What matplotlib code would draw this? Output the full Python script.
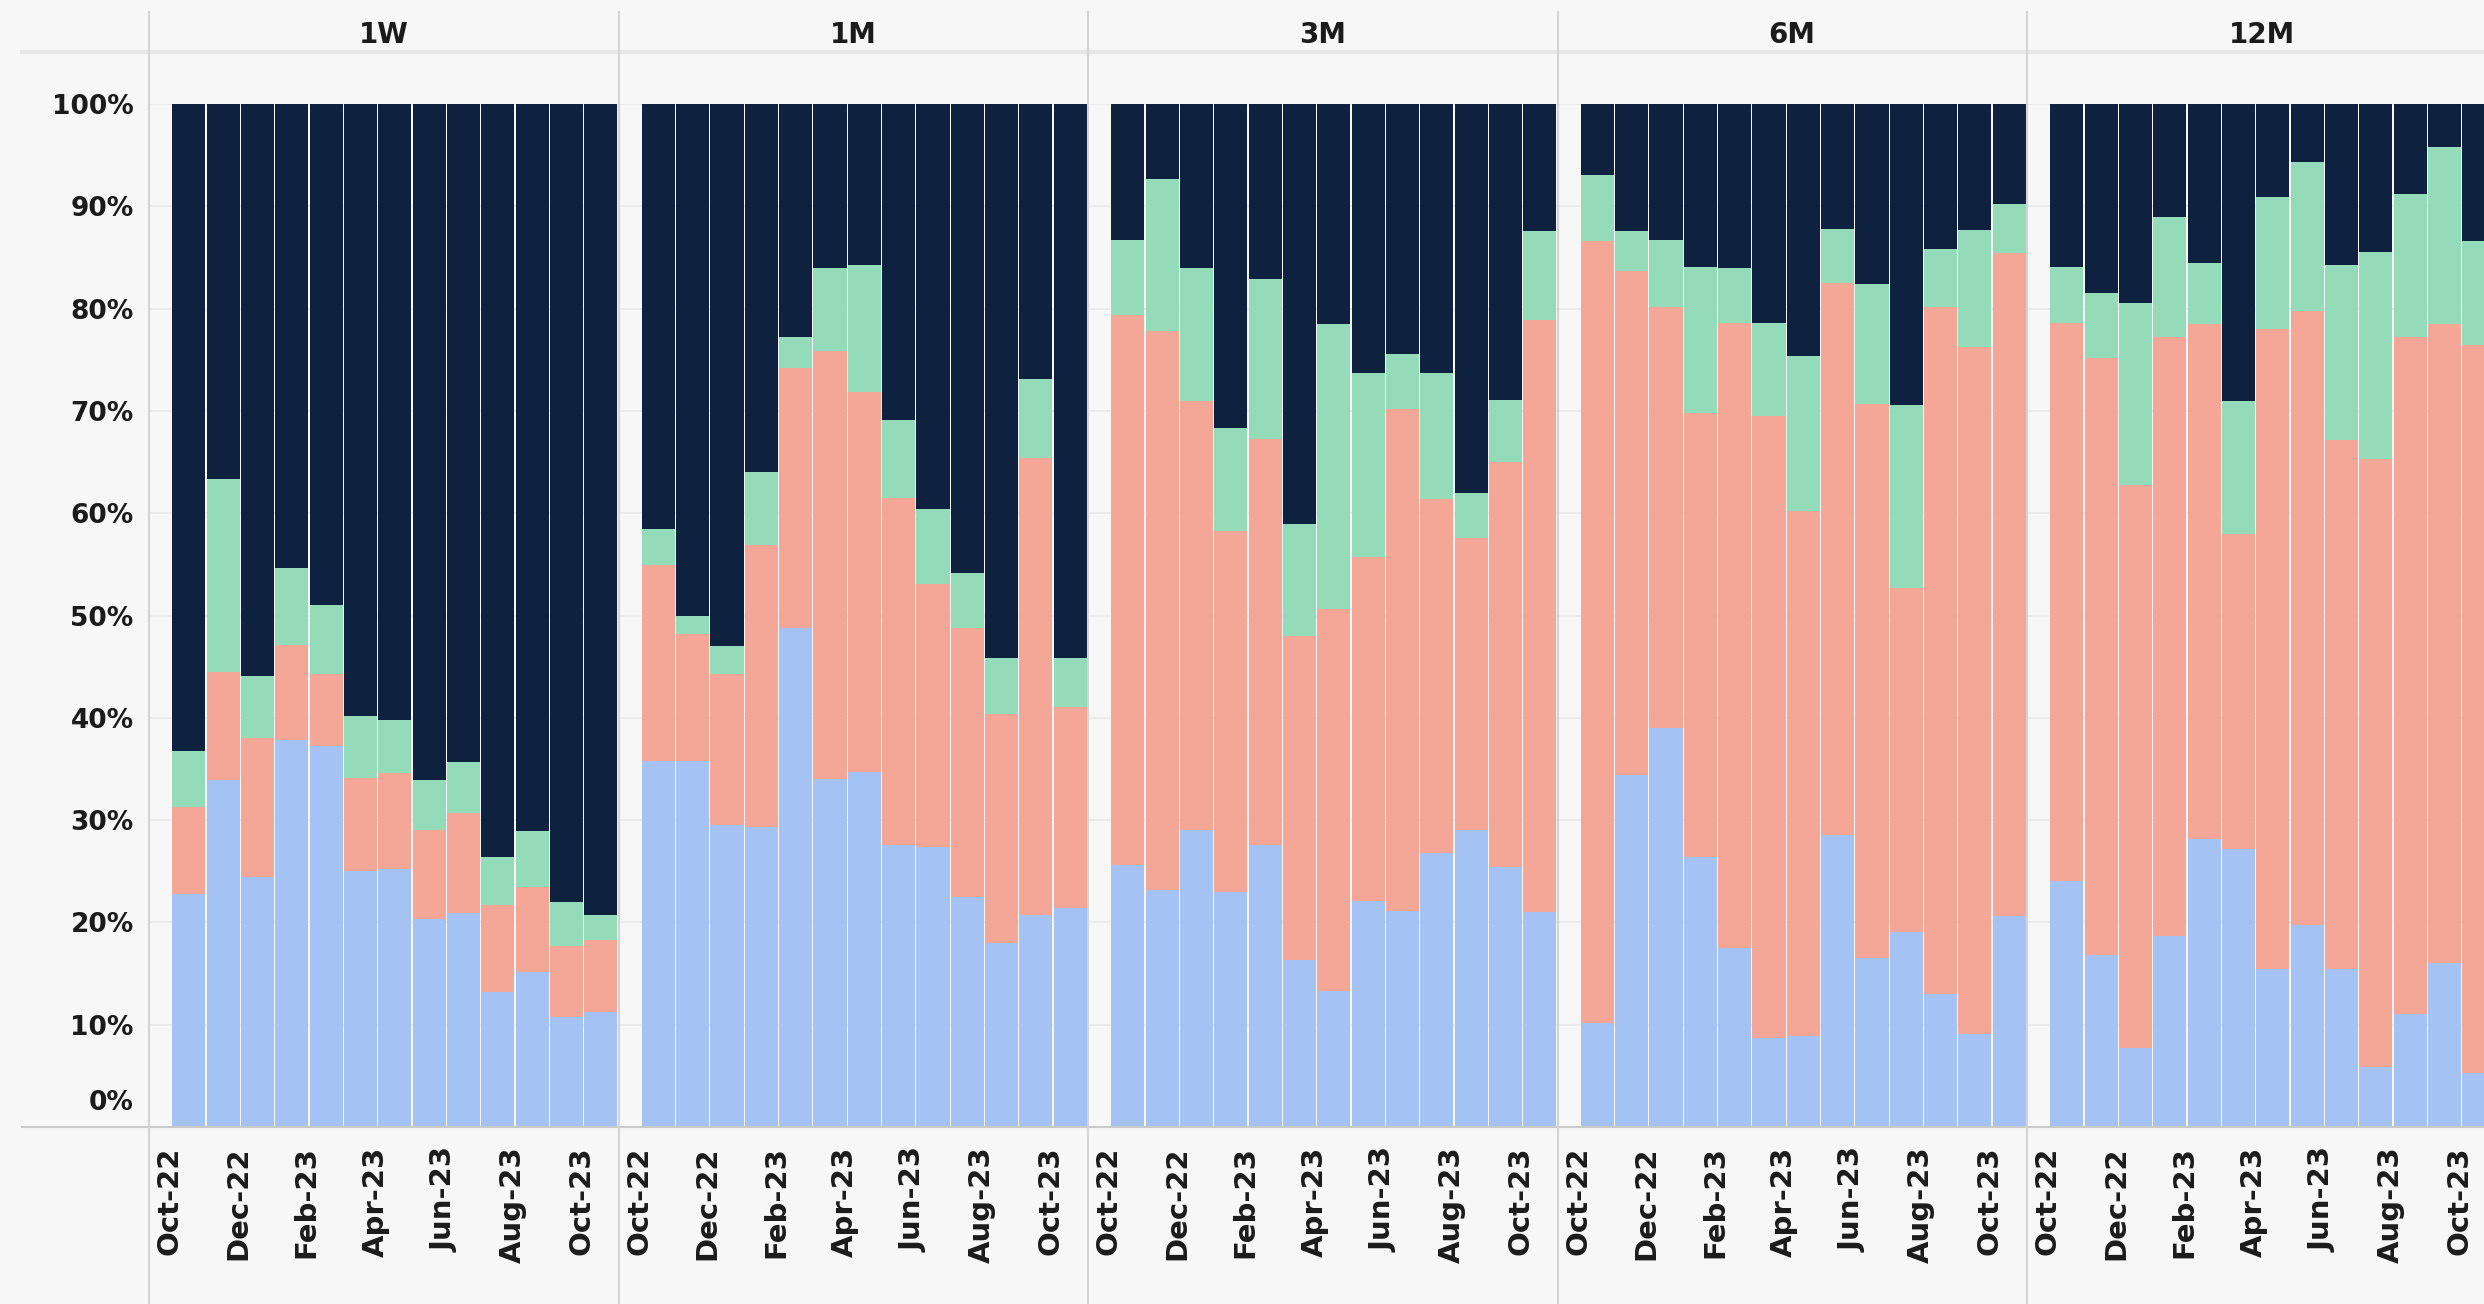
import matplotlib
matplotlib.use('Agg')
import matplotlib.pyplot as plt
from matplotlib.lines import Line2D
from matplotlib.transforms import ScaledTranslation

# months shown in every panel
months = ['Oct-22', 'Nov-22', 'Dec-22', 'Jan-23', 'Feb-23', 'Mar-23', 'Apr-23',
          'May-23', 'Jun-23', 'Jul-23', 'Aug-23', 'Sep-23', 'Oct-23']
tick_labels = ['Oct-22', 'Dec-22', 'Feb-23', 'Apr-23', 'Jun-23', 'Aug-23', 'Oct-23']
panels = ['1W', '1M', '3M', '6M', '12M']

# shares (%) per segment, bottom to top
blue = {
    '1W': [22.8, 33.9, 24.4, 37.8, 37.2, 25.0, 25.2, 20.3, 20.9, 13.2, 15.2, 10.8, 11.2],
    '1M': [35.8, 35.8, 29.5, 29.3, 48.8, 34.0, 34.7, 27.6, 27.4, 22.5, 18.0, 20.7, 21.4],
    '3M': [25.6, 23.2, 29.0, 23.0, 27.6, 16.3, 13.3, 22.1, 21.1, 26.8, 29.0, 25.4, 21.0],
    '6M': [10.2, 34.4, 39.0, 26.4, 17.5, 8.7, 8.9, 28.5, 16.5, 19.1, 13.0, 9.1, 20.6],
    '12M': [24.0, 16.8, 7.7, 18.7, 28.2, 27.2, 15.4, 19.7, 15.4, 5.9, 11.0, 16.0, 5.3],
}
salmon = {
    '1W': [8.5, 10.6, 13.6, 9.3, 7.1, 9.1, 9.4, 8.7, 9.8, 8.5, 8.3, 6.9, 7.1],
    '1M': [19.1, 12.4, 14.8, 27.6, 25.4, 41.9, 37.1, 33.9, 25.7, 26.3, 22.4, 44.7, 19.7],
    '3M': [53.8, 54.6, 42.0, 35.3, 39.7, 31.7, 37.3, 33.6, 49.1, 34.6, 28.6, 39.6, 57.9],
    '6M': [76.4, 49.3, 41.2, 43.4, 61.1, 60.8, 51.3, 54.0, 54.2, 33.6, 67.2, 67.1, 64.8],
    '12M': [54.6, 58.4, 55.1, 58.5, 50.3, 30.8, 62.6, 60.1, 51.8, 59.4, 66.2, 62.5, 71.1],
}
mint = {
    '1W': [5.5, 18.8, 6.1, 7.5, 6.7, 6.1, 5.2, 4.9, 5.0, 4.7, 5.4, 4.3, 2.4],
    '1M': [3.6, 1.8, 2.7, 7.1, 3.0, 8.1, 12.5, 7.6, 7.3, 5.4, 5.4, 7.7, 4.7],
    '3M': [7.3, 14.9, 13.0, 10.0, 15.6, 10.9, 27.9, 18.0, 5.4, 12.3, 4.4, 6.1, 8.7],
    '6M': [6.5, 3.9, 6.5, 14.3, 5.4, 9.1, 15.2, 5.3, 11.7, 17.9, 5.6, 11.5, 4.8],
    '12M': [5.5, 6.3, 17.7, 11.8, 6.0, 13.0, 12.9, 14.5, 17.1, 20.2, 14.0, 17.3, 10.2],
}
navy = {
    '1W': [63.2, 36.7, 55.9, 45.4, 49.0, 59.8, 60.2, 66.1, 64.3, 73.6, 71.1, 78.0, 79.3],
    '1M': [41.5, 50.0, 53.0, 36.0, 22.8, 16.0, 15.7, 30.9, 39.6, 45.8, 54.2, 26.9, 54.2],
    '3M': [13.3, 7.3, 16.0, 31.7, 17.1, 41.1, 21.5, 26.3, 24.4, 26.3, 38.0, 28.9, 12.4],
    '6M': [6.9, 12.4, 13.3, 15.9, 16.0, 21.4, 24.6, 12.2, 17.6, 29.4, 14.2, 12.3, 9.8],
    '12M': [15.9, 18.5, 19.5, 11.0, 15.5, 29.0, 9.1, 5.7, 15.7, 14.5, 8.8, 4.2, 13.4],
}

BG = '#f7f7f7'
TXT = '#1b1b1b'
series = [(blue, '#a4c2f4'), (salmon, '#f4a797'), (mint, '#94dcb9'), (navy, '#0e2240')]

plt.rcParams['font.family'] = ['DejaVu Sans']
W, H = 2484, 1304
fig = plt.figure(figsize=(W / 100, H / 100), dpi=100, facecolor=BG)

panel_left = 149
panel_w = 469.5
y_top, y_bot = 104, 1127

for i, name in enumerate(panels):
    x0 = panel_left + i * panel_w
    ax = fig.add_axes([x0 / W, 1 - y_bot / H, panel_w / W, (y_bot - y_top) / H])
    ax.set_facecolor(BG)
    bottom = [0.0] * len(months)
    for data, col in series:
        vals = data[name]
        ax.bar(range(len(months)), vals, bottom=bottom, width=0.965, align='edge',
               color=col, linewidth=0, zorder=2)
        bottom = [b + v for b, v in zip(bottom, vals)]
    ax.set_xlim(-0.68, len(months))
    ax.set_ylim(0, 100)
    ax.set_yticks(range(0, 101, 10))
    ax.grid(axis='y', color='#e9e9e9', lw=1.2, zorder=0)
    for s in ax.spines.values():
        s.set_visible(False)
    ax.set_xticks([months.index(m) - 0.08 for m in tick_labels])
    ax.set_xticklabels(tick_labels, rotation=90, fontsize=21, fontweight='bold', color=TXT)
    ax.tick_params(axis='x', length=0, pad=14)
    if i == 0:
        ax.set_yticklabels([f'{v}%' for v in range(0, 101, 10)], fontsize=19,
                           fontweight='bold', color=TXT)
        ax.tick_params(axis='y', length=0, pad=11)
        # the 0% label sits a little higher than its gridline
        lab0 = ax.get_yticklabels()[0]
        lab0.set_transform(lab0.get_transform() + ScaledTranslation(0, 0.27, fig.dpi_scale_trans))
    else:
        ax.tick_params(axis='y', length=0, labelleft=False)
    fig.text((x0 + panel_w / 2) / W, 1 - 35 / H, name, ha='center', va='center',
             fontsize=20, fontweight='bold', color=TXT)

# header rule, x axis rule and panel separators
fig.add_artist(Line2D([22 / W, 1], [1 - 52 / H] * 2, color='#e6e6e6', lw=3))
fig.add_artist(Line2D([22 / W, 1], [1 - y_bot / H] * 2, color='#c9c9c9', lw=1.5))
for i in range(len(panels)):
    xs = (panel_left + i * panel_w) / W
    fig.add_artist(Line2D([xs, xs], [0, 1 - 12 / H], color='#d4d4d4', lw=1.5))

fig.savefig('out.png', dpi=100, facecolor=BG)
